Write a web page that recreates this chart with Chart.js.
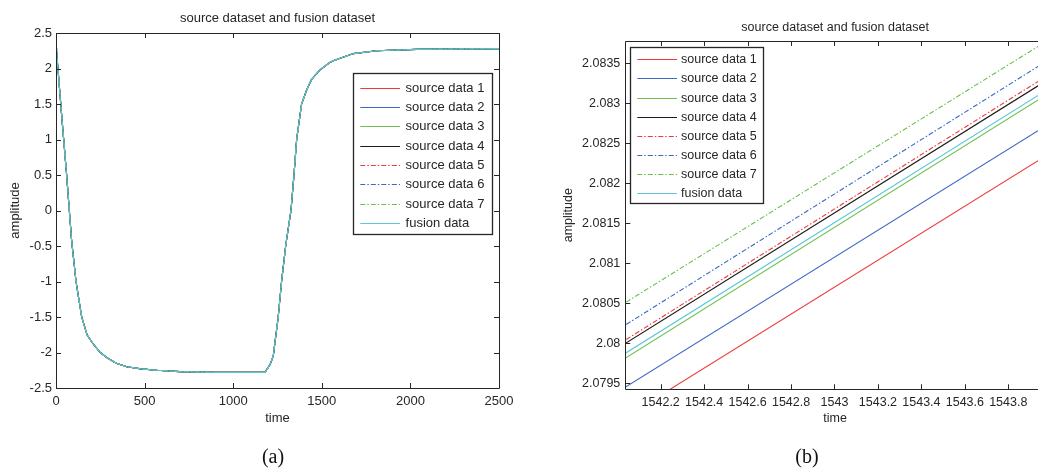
<!DOCTYPE html>
<html>
<head>
<meta charset="utf-8">
<script src="https://cdn.jsdelivr.net/npm/chart.js@4.4.0/dist/chart.umd.min.js"></script>
<style>
  body { margin: 0; width: 1038px; height: 469px; overflow: hidden; background: #fff; position: relative; }
  canvas { position: absolute; top: 0; }
  .cap { position: absolute; font-family: "Liberation Serif", "Times New Roman", serif; font-size: 20px; color: #111; transform: translate(-50%, -50%); }
</style>
</head>
<body>
<canvas id="chartA" width="520" height="469" style="left:0"></canvas>
<canvas id="chartB" width="535" height="469" style="left:520px"></canvas>
<div class="cap" style="left:273px;top:456px">(a)</div>
<div class="cap" style="left:807px;top:456px">(b)</div>
<script>
// ---- data ----
const labels = ["source data 1", "source data 2", "source data 3", "source data 4",
  "source data 5", "source data 6", "source data 7", "fusion data"];

// (a) full run: at this scale all eight curves sit on top of each other
const timeA = [0, 3, 30, 60, 88, 113, 145, 175, 207, 250, 286, 340, 399, 480, 568, 700, 900,
  1179, 1208, 1226, 1254, 1273, 1296, 1326, 1343, 1358, 1386, 1415, 1443, 1490, 1543, 1565,
  1678, 1810, 2035, 2500];
const ampA = [2.29, 2.25, 1.4, 0.5, -0.42, -1.0, -1.5, -1.75, -1.87, -2.0, -2.07, -2.15, -2.2,
  -2.23, -2.25, -2.27, -2.28, -2.28, -2.17, -2.05, -1.5, -1.0, -0.5, 0.0, 0.5, 1.0, 1.5, 1.7,
  1.85, 1.98, 2.08, 2.11, 2.21, 2.25, 2.27, 2.28];

// (b) zoom around t = 1543
const timeB = [1542, 1544];
const src1B = [2.079015, 2.082389];
const src2B = [2.079388, 2.082764];
const src3B = [2.079750, 2.083150];
const src4B = [2.079937, 2.083326];
const src5B = [2.079978, 2.083381];
const src6B = [2.080166, 2.083569];
const src7B = [2.080446, 2.083818];
const fusionB = [2.079812, 2.083205];

const tickXA = [0, 500, 1000, 1500, 2000, 2500];
const tickYA = [-2.5, -2, -1.5, -1, -0.5, 0, 0.5, 1, 1.5, 2, 2.5];
const tickXB = [1542.2, 1542.4, 1542.6, 1542.8, 1543, 1543.2, 1543.4, 1543.6, 1543.8];
const tickYB = [2.0795, 2.08, 2.0805, 2.081, 2.0815, 2.082, 2.0825, 2.083, 2.0835];

// ---- styles ----
const dashDot = [5, 2, 1.5, 2];
const styles = [
  { color: "#f03a3a", dash: [] },
  { color: "#3a68c4", dash: [] },
  { color: "#6cbf4a", dash: [] },
  { color: "#1a1a1a", dash: [] },
  { color: "#f03a3a", dash: dashDot },
  { color: "#3a68c4", dash: dashDot },
  { color: "#6cbf4a", dash: dashDot },
  { color: "#5cc8d8", dash: [] }
];
const FONT = "'Liberation Sans', Arial, sans-serif";
const INK = "#262626";

function makeSets(xs, series) {
  return series.map((ys, i) => ({
    label: labels[i],
    data: xs.map((x, k) => ({ x: x, y: ys[k] })),
    borderColor: styles[i].color,
    backgroundColor: styles[i].color,
    borderDash: styles[i].dash,
    borderWidth: 1.1,
    pointRadius: 0,
    showLine: true,
    order: i === 7 ? 0 : 8 - i
  }));
}

// box round the axes with MATLAB style inward ticks
const frame = {
  id: "frame",
  afterDatasetsDraw(chart) {
    const { ctx, chartArea: a, scales } = chart;
    const len = 5;
    ctx.save();
    ctx.strokeStyle = INK;
    ctx.lineWidth = 1;
    ctx.beginPath();
    ctx.rect(Math.round(a.left) + 0.5, Math.round(a.top) + 0.5, Math.round(a.width), Math.round(a.height));
    scales.x.ticks.forEach(t => {
      const p = Math.round(scales.x.getPixelForValue(t.value)) + 0.5;
      ctx.moveTo(p, a.bottom); ctx.lineTo(p, a.bottom - len);
      ctx.moveTo(p, a.top); ctx.lineTo(p, a.top + len);
    });
    scales.y.ticks.forEach(t => {
      const p = Math.round(scales.y.getPixelForValue(t.value)) + 0.5;
      ctx.moveTo(a.left, p); ctx.lineTo(a.left + len, p);
      ctx.moveTo(a.right, p); ctx.lineTo(a.right - len, p);
    });
    ctx.stroke();
    ctx.restore();
  }
};

// legend drawn as a boxed table inside the axes
const boxLegend = {
  id: "boxLegend",
  afterDraw(chart, args, o) {
    const { ctx, chartArea: a } = chart;
    const x0 = o.fromRight ? a.right - o.dx - o.w : a.left + o.dx;
    const y0 = a.top + o.dy;
    ctx.save();
    ctx.fillStyle = "#fff";
    ctx.fillRect(x0, y0, o.w, o.h);
    ctx.strokeStyle = INK;
    ctx.lineWidth = 1.3;
    ctx.strokeRect(Math.round(x0) + 0.5, Math.round(y0) + 0.5, o.w, o.h);
    ctx.font = o.size + "px " + FONT;
    ctx.textBaseline = "middle";
    chart.data.datasets.forEach((ds, i) => {
      const y = Math.round(y0 + o.first + i * o.row) + 0.5;
      ctx.strokeStyle = ds.borderColor;
      ctx.lineWidth = 1.1;
      ctx.setLineDash(ds.borderDash);
      ctx.beginPath();
      ctx.moveTo(x0 + 7.3, y);
      ctx.lineTo(x0 + 47, y);
      ctx.stroke();
      ctx.setLineDash([]);
      ctx.fillStyle = INK;
      ctx.fillText(ds.label, x0 + o.textX, y);
    });
    ctx.restore();
  }
};

function axis(min, max, ticks, title, size, pad, fitFn) {
  return {
    type: "linear",
    min: min,
    max: max,
    grid: { display: false, drawTicks: false },
    border: { display: false },
    afterBuildTicks: s => { s.ticks = ticks.map(v => ({ value: v })); },
    afterFit: fitFn,
    ticks: { color: INK, padding: pad, font: { family: FONT, size: size }, callback: v => String(v) },
    title: { display: true, text: title, color: INK, padding: 0, font: { family: FONT, size: size } }
  };
}

function makeChart(id, cfg) {
  new Chart(document.getElementById(id), {
    type: "scatter",
    data: { datasets: cfg.sets },
    plugins: [frame, boxLegend],
    options: {
      responsive: false,
      animation: false,
      layout: { padding: cfg.pad },
      plugins: {
        legend: { display: false },
        tooltip: { enabled: false },
        title: {
          display: true, fullSize: false, text: "source dataset and fusion dataset", color: INK,
          font: { family: FONT, size: cfg.size, weight: "normal" }, padding: cfg.titlePad
        },
        boxLegend: cfg.legend
      },
      scales: { x: cfg.x, y: cfg.y }
    }
  });
}

makeChart("chartA", {
  sets: makeSets(timeA, [ampA, ampA, ampA, ampA, ampA, ampA, ampA, ampA]),
  size: 13,
  pad: { left: 7.4, right: 21, top: 0, bottom: 43 },
  titlePad: { top: 10.5, bottom: 6.9 },
  legend: { fromRight: true, dx: 7, dy: 40, w: 139, h: 161, first: 14.7, row: 19.3, textX: 52.6, size: 13 },
  x: axis(0, 2500, tickXA, "time", 13, 6, s => { s.height = 38; }),
  y: axis(-2.5, 2.5, tickYA, "amplitude", 13, 4, s => { s.width = 48.6; })
});

// right edge of (b) lies just past the page edge, as in the original figure
makeChart("chartB", {
  sets: makeSets(timeB, [src1B, src2B, src3B, src4B, src5B, src6B, src7B, fusionB]),
  size: 12.5,
  pad: { left: 40.8, right: 10, top: 0, bottom: 42.8 },
  titlePad: { top: 20.5, bottom: 5.5 },
  legend: { fromRight: false, dx: 4.7, dy: 5.7, w: 133, h: 156, first: 12.6, row: 19.1, textX: 51, size: 12.5 },
  x: axis(1542.037, 1543.969, tickXB, "time", 12.5, 5.5, s => { s.height = 36.9; }),
  y: axis(2.079425, 2.08378, tickYB, "amplitude", 12.5, 5, s => { s.width = 64.5; })
});
</script>
</body>
</html>
